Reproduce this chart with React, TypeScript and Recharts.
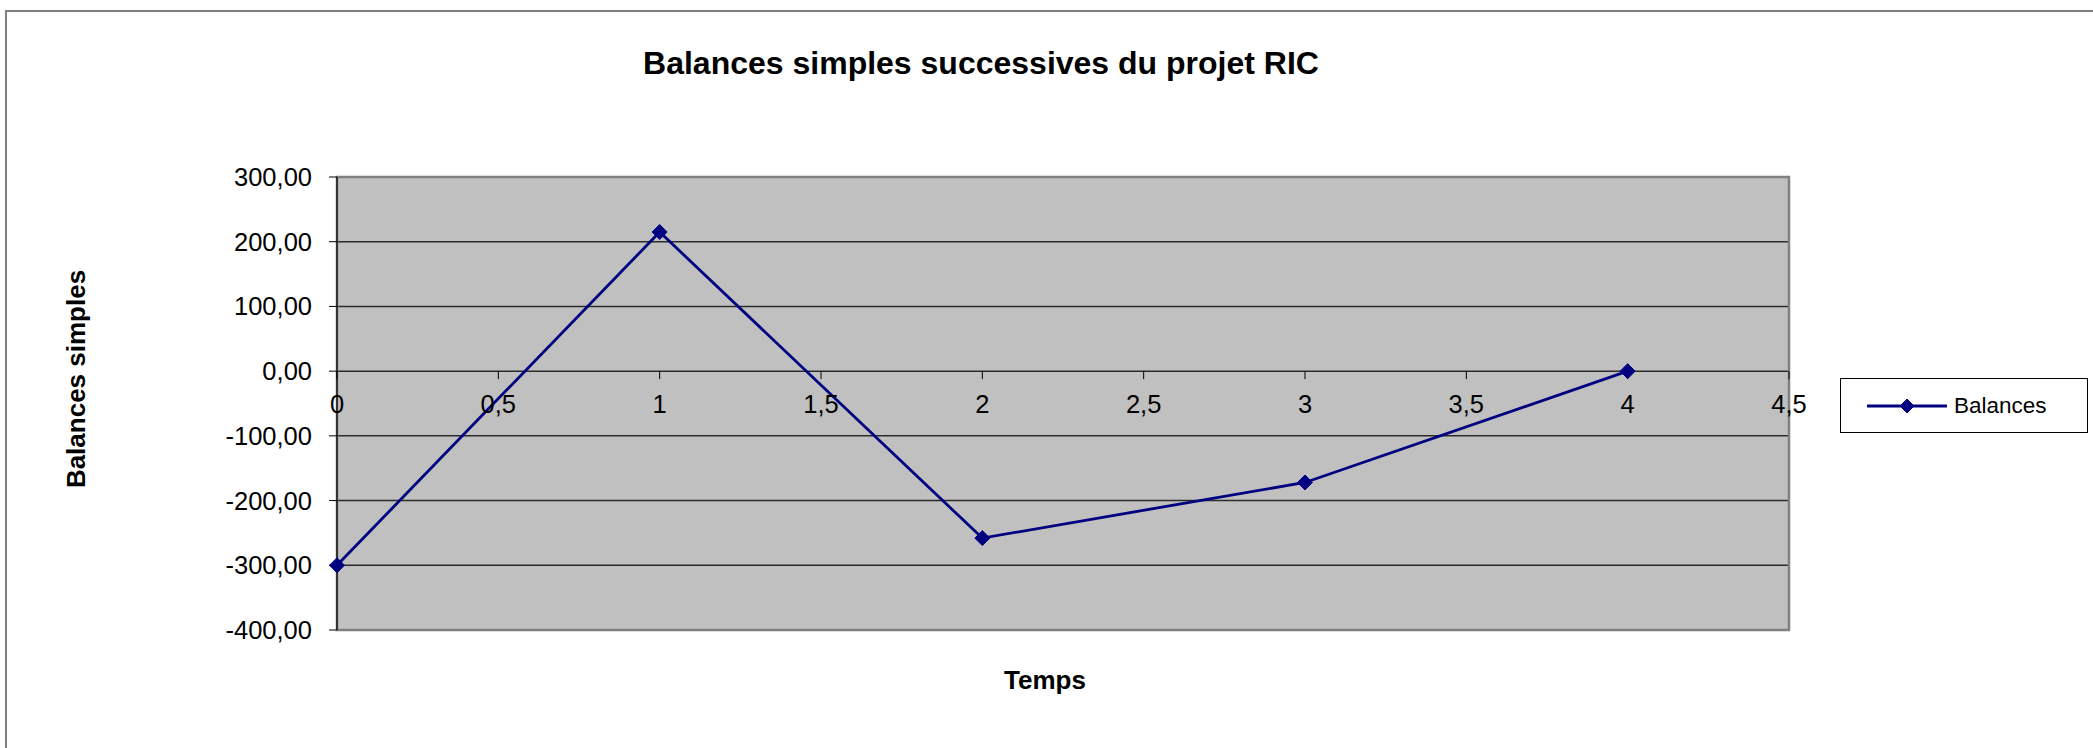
import React from "react";
import {
  CartesianGrid,
  Legend,
  Line,
  LineChart,
  ReferenceArea,
  ReferenceDot,
  XAxis,
  YAxis,
} from "recharts";

const temps = [0, 1, 2, 3, 4];
const balances = [-300, 215, -258, -172, 0];
const xTicks = [0, 0.5, 1, 1.5, 2, 2.5, 3, 3.5, 4, 4.5];
const yTicks = [-400, -300, -200, -100, 0, 100, 200, 300];

const chartData = temps.map((t, i) => ({ temps: t, balance: balances[i] }));

const FONT = "'Liberation Sans', Arial, sans-serif";
const NAVY = "#000080";

const fmtY = (v: number) => v.toFixed(2).replace(".", ",");
const fmtX = (v: number) => String(v).replace(".", ",");

function Diamond({ cx, cy, size }: { cx: number; cy: number; size: number }) {
  const h = size / 2;
  return (
    <polygon
      points={`${cx},${cy - h} ${cx + h},${cy} ${cx},${cy + h} ${cx - h},${cy}`}
      fill={NAVY}
      stroke={NAVY}
    />
  );
}

// x axis crosses at 0, so ticks + labels sit on the zero line
function ZeroAxisTick(props: any) {
  const { cx, cy, label } = props;
  if (cx == null || cy == null) return <g />;
  return (
    <g>
      <line x1={cx} y1={cy} x2={cx} y2={cy + 8} stroke="#000" strokeWidth={1} />
      <text
        x={cx}
        y={cy + 42}
        textAnchor="middle"
        fontSize={25.5}
        fontFamily={FONT}
        fill="#000"
      >
        {label}
      </text>
    </g>
  );
}

function LegendBox() {
  return (
    <div
      style={{
        width: 248,
        height: 55,
        boxSizing: "border-box",
        border: "1.5px solid #000",
        background: "#fff",
        display: "flex",
        alignItems: "center",
        fontFamily: FONT,
        fontSize: 22.5,
        color: "#000",
      }}
    >
      <svg width={110} height={20} style={{ flexShrink: 0 }}>
        <line x1={26} y1={10} x2={106} y2={10} stroke={NAVY} strokeWidth={2.8} />
        <Diamond cx={66} cy={10} size={14} />
      </svg>
      <span style={{ marginLeft: 3 }}>Balances</span>
    </div>
  );
}

export default function App() {
  return (
    <div
      style={{
        position: "absolute",
        left: 0,
        top: 0,
        width: 2093,
        height: 748,
        overflow: "hidden",
        background: "#fff",
        fontFamily: FONT,
      }}
    >
      <div
        style={{
          position: "absolute",
          left: 5,
          top: 10,
          width: 2120,
          height: 800,
          border: "2px solid #808080",
        }}
      />
      <div
        style={{
          position: "absolute",
          left: 981,
          top: 63,
          transform: "translate(-50%, -50%)",
          fontSize: 32,
          fontWeight: "bold",
          lineHeight: 1,
          whiteSpace: "nowrap",
        }}
      >
        Balances simples successives du projet RIC
      </div>
      <div
        style={{
          position: "absolute",
          left: 76,
          top: 379,
          transform: "translate(-50%, -50%) rotate(-90deg)",
          fontSize: 26,
          fontWeight: "bold",
          lineHeight: 1,
          whiteSpace: "nowrap",
        }}
      >
        Balances simples
      </div>
      <div
        style={{
          position: "absolute",
          left: 1045,
          top: 680,
          transform: "translate(-50%, -50%)",
          fontSize: 26,
          fontWeight: "bold",
          lineHeight: 1,
          whiteSpace: "nowrap",
        }}
      >
        Temps
      </div>
      <div style={{ position: "absolute", left: 0, top: 0 }}>
        <LineChart
          width={2093}
          height={748}
          data={chartData}
          margin={{ top: 177, right: 304, bottom: 118, left: 257 }}
        >
          <CartesianGrid
            vertical={false}
            fill="#C0C0C0"
            fillOpacity={1}
            stroke="#2b2b2b"
            strokeWidth={1.5}
          />
          <XAxis
            dataKey="temps"
            type="number"
            domain={[0, 4.5]}
            ticks={xTicks}
            hide
          />
          <YAxis
            type="number"
            domain={[-400, 300]}
            ticks={yTicks}
            width={80}
            tickFormatter={fmtY}
            tickSize={8}
            tickMargin={17}
            tick={{ fill: "#000", fontSize: 25.5, fontFamily: FONT }}
            tickLine={{ stroke: "#000" }}
            axisLine={{ stroke: "#333", strokeWidth: 2 }}
          />
          <ReferenceArea
            x1={0}
            x2={4.5}
            y1={-400}
            y2={300}
            fill="none"
            stroke="#808080"
            strokeWidth={2.5}
            ifOverflow="visible"
          />
          {xTicks.map((t) => (
            <ReferenceDot
              key={`xt-${t}`}
              x={t}
              y={0}
              r={0}
              ifOverflow="visible"
              shape={(p: any) => <ZeroAxisTick {...p} label={fmtX(t)} />}
            />
          ))}
          <Line
            type="linear"
            dataKey="balance"
            name="Balances"
            stroke={NAVY}
            strokeWidth={2.8}
            isAnimationActive={false}
            dot={(p: any) => (
              <Diamond key={`d-${p.index}`} cx={p.cx} cy={p.cy} size={15} />
            )}
            activeDot={false}
          />
          <Legend
            layout="horizontal"
            verticalAlign="middle"
            align="center"
            content={() => <LegendBox />}
            wrapperStyle={{
              position: "absolute",
              left: 1840,
              top: 378,
              right: "auto",
              bottom: "auto",
              width: 248,
              height: 55,
            }}
          />
        </LineChart>
      </div>
    </div>
  );
}
